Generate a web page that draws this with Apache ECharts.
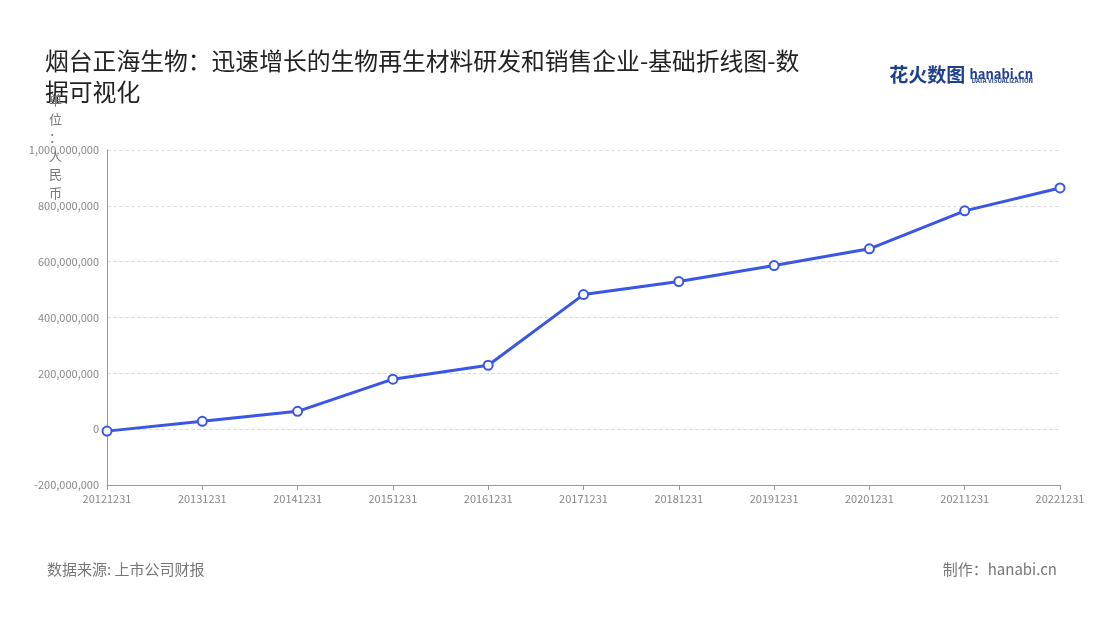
<!DOCTYPE html>
<html>
<head>
<meta charset="utf-8">
<script src="https://cdn.jsdelivr.net/npm/echarts@6/dist/echarts.min.js"></script>
<style>
  html, body { margin:0; padding:0; background:#fff; }
  #main { width:1100px; height:620px; }
</style>
</head>
<body>
<div id="main"></div>
<script>
// 数据
const years = ['20121231','20131231','20141231','20151231','20161231','20171231','20181231','20191231','20201231','20211231','20221231'];
const revenue = [-7000000, 28000000, 64000000, 179000000, 229000000, 482000000, 529000000, 586000000, 646000000, 782000000, 864000000];

const font = '"Noto Sans CJK SC", "Noto Sans", sans-serif';
let myChart = echarts.init(document.getElementById('main'));
let option = {
    textStyle:{ fontFamily:font },
    title:[
        {
            text:'烟台正海生物：迅速增长的生物再生材料研发和销售企业-基础折线图-数\n据可视化',
            left:40, top:40,
            textStyle:{ fontSize:23.8, fontWeight:'normal', color:'#222', lineHeight:31, fontFamily:font }
        },
        {
            text:'单\n位\n：\n人\n民\n币',
            left:44, top:86,
            textStyle:{ fontSize:13, fontWeight:'normal', color:'#777', lineHeight:18.5, fontFamily:font }
        },
        {
            text:'数据来源: 上市公司财报',
            left:42, top:557,
            textStyle:{ fontSize:15, fontWeight:'normal', color:'#777', fontFamily:font }
        },
        {
            text:'制作：hanabi.cn',
            right:38, top:557,
            textStyle:{ fontSize:15, fontWeight:'normal', color:'#777', fontFamily:font }
        },
        {
            text:'{a|花火}{b|数图} {c|hanabi.cn}\n{d|DATA VISUALIZATION}',
            right:62, top:60,
            textStyle:{
                rich:{
                    a:{ fontSize:19, fontWeight:'bold', color:'#1f3f8f', fontFamily:font },
                    b:{ fontSize:19, color:'#1f3f8f', fontFamily:font },
                    c:{ fontSize:13, fontWeight:'bold', color:'#1f3f8f' },
                    d:{ fontSize:6, color:'#1f3f8f', align:'right', padding:[-6,0,0,0] }
                }
            }
        }
    ],
    grid:{ left:107, right:40, top:150, bottom:135 },
    xAxis:{
        type:'category',
        data:years,
        boundaryGap:false,
        axisLine:{ onZero:false, lineStyle:{ color:'#999' } },
        axisTick:{ show:true, lineStyle:{ color:'#999' } },
        axisLabel:{ color:'#888', fontSize:11, interval:0 }
    },
    yAxis:{
        type:'value',
        min:-200000000,
        max:1000000000,
        interval:200000000,
        axisLine:{ show:true, lineStyle:{ color:'#999' } },
        axisTick:{ show:false },
        axisLabel:{ color:'#888', fontSize:11, formatter:v=>v.toLocaleString('en-US') },
        splitLine:{ show:true, lineStyle:{ color:'#ddd', type:'dashed' } }
    },
    series:[{
        type:'line',
        data:revenue,
        symbol:'circle',
        symbolSize:9,
        lineStyle:{ color:'#3a56e8', width:3 },
        itemStyle:{ color:'#fff', borderColor:'#3a56e8', borderWidth:2 }
    }]
};
myChart.setOption(option);
</script>
</body>
</html>
